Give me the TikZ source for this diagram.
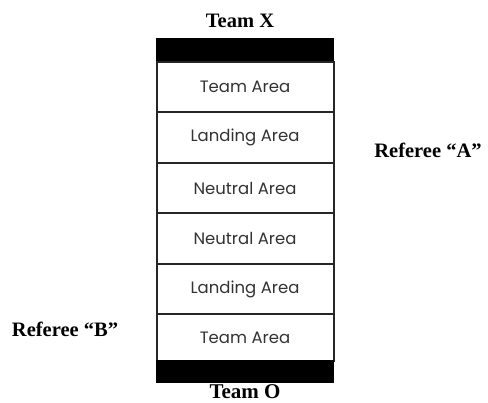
\documentclass[tikz,border=0pt]{standalone}
\usepackage{fontspec}
\setmainfont{Liberation Serif}
\newfontfamily\areafont{Poppins}
\begin{document}
\begin{tikzpicture}[x=1pt,y=-1pt,
  area/.style={draw=black!85,line width=2pt,fill=white,minimum width=177pt,minimum height=50.5pt,inner sep=0pt,font=\areafont\fontsize{16.5}{18}\selectfont,text=black!80,anchor=north west},
  bar/.style={draw=black,fill=black,line width=1pt,minimum width=177pt,minimum height=22pt,inner sep=0pt,anchor=north west},
  lbl/.style={font=\bfseries\fontsize{20.5}{24}\selectfont,inner sep=0pt,anchor=base}]
\useasboundingbox (0,0) rectangle (488,403);
\node[bar] (topbar) at (155.5,38) {};
\node[area] (r1) at (155.5,61) {Team Area};
\node[area] (r2) at (155.5,111.5) {Landing Area};
\node[area] (r3) at (155.5,162) {Neutral Area};
\node[area] (r4) at (155.5,212.5) {Neutral Area};
\node[area] (r5) at (155.5,263) {Landing Area};
\node[area,minimum height=47pt] (r6) at (155.5,313.5) {Team Area};
\node[bar] (botbar) at (155.5,360.5) {};
\node[lbl] (tx) at (240,27.5) {Team X};
\node[lbl,font=\bfseries\fontsize{21}{24}\selectfont] (to) at (245,398.5) {Team O};
\node[lbl] (ra) at (428,158) {Referee ``A''};
\node[lbl] (rb) at (65,337) {Referee ``B''};
\end{tikzpicture}
\end{document}
